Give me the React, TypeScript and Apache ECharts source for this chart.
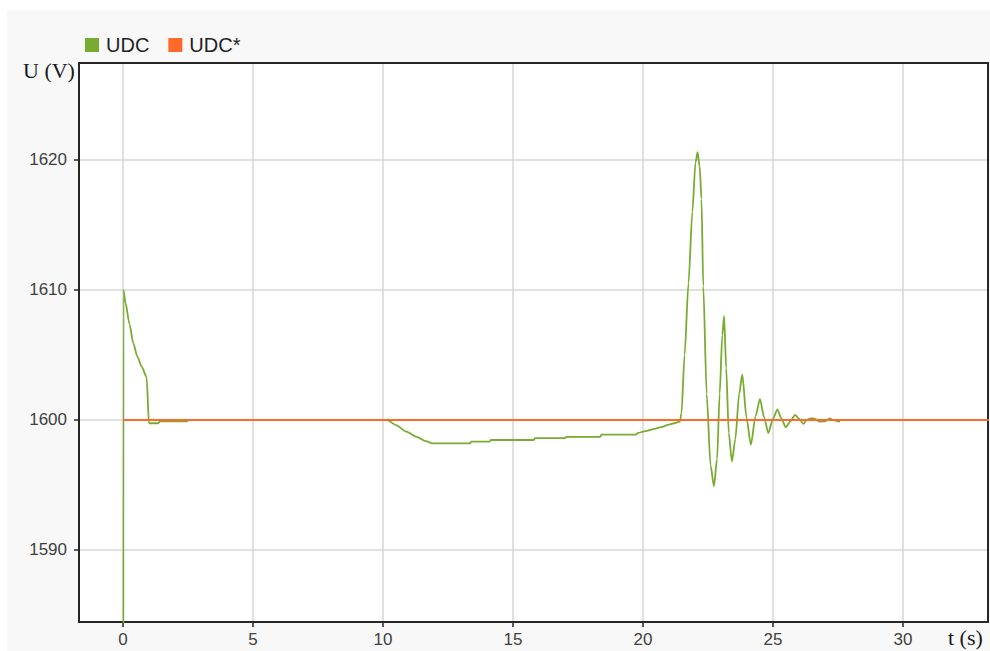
import React, { useEffect, useRef } from "react";
import * as echarts from "echarts";

const udcTime = [
  0, 0.02, 0.1, 0.25, 0.4, 0.55, 0.72, 0.91, 1.0, 1.36, 1.42, 2.47, 2.5,
  10.15, 10.2, 10.5, 10.9, 11.3, 11.6, 11.93, 13.35, 13.4, 14.1, 14.15, 15.8, 15.85,
  17.0, 17.05, 18.35, 18.4, 19.74, 19.8, 20.1, 20.4, 20.7, 21.0, 21.2, 21.42,
  21.48, 21.6, 21.75, 21.9, 22.02, 22.1, 22.18, 22.25, 22.32, 22.45, 22.6, 22.73,
  22.85, 22.95, 23.05, 23.12, 23.2, 23.3, 23.42, 23.55, 23.7, 23.82, 23.98, 24.15,
  24.33, 24.5, 24.66, 24.82, 25.0, 25.17, 25.33, 25.49, 25.67, 25.85, 26.0, 26.17,
  26.3, 26.45, 26.6, 26.8, 27.0, 27.19, 27.3, 27.58,
];
const udcValue = [
  1500, 1610, 1609, 1607.4, 1605.9, 1604.9, 1604.1, 1603.3, 1599.75, 1599.75, 1599.9, 1599.9, 1600,
  1600, 1599.95, 1599.6, 1599.1, 1598.7, 1598.4, 1598.2, 1598.2, 1598.33, 1598.33, 1598.46, 1598.46, 1598.6,
  1598.6, 1598.7, 1598.7, 1598.87, 1598.87, 1599.0, 1599.15, 1599.3, 1599.45, 1599.65, 1599.75, 1599.87,
  1600.5, 1605, 1610.5, 1616, 1619.8, 1620.6, 1619.5, 1617, 1610.3, 1602, 1596.5, 1594.9,
  1597, 1602, 1606.5, 1608.0, 1604, 1599, 1596.8, 1598.5, 1602, 1603.5, 1600.2, 1598.1,
  1600.3, 1601.6, 1600.2, 1599.0, 1600.1, 1600.8, 1600.1, 1599.44, 1599.9, 1600.4, 1600.1, 1599.7,
  1600.0, 1600.13, 1600.1, 1599.87, 1599.9, 1600.13, 1600.0, 1599.87,
];
const refTime = [0, 34];
const refValue = [1600, 1600];

const xMin = -1.69;
const xMax = 33.27;
const yMin = 1584.46;
const yMax = 1627.46;

export default function App() {
  const ref = useRef<HTMLDivElement>(null);
  useEffect(() => {
    if (!ref.current) return;
    const chart = echarts.init(ref.current, undefined, { renderer: "svg" });
    const labelFont = "'Liberation Sans', Arial, sans-serif";
    const frameLine = { show: true, onZero: false, lineStyle: { color: "#262626", width: 2 } };
    const gridLine = { show: true, lineStyle: { color: "#d6d6d6", width: 1.5 } };
    chart.setOption({
      animation: false,
      backgroundColor: "#ffffff",
      graphic: [
        { type: "rect", left: 7, top: 10, z: -10, shape: { width: 983, height: 641 }, style: { fill: "#f8f8f8" } },
        { type: "text", left: 23, top: 59, style: { text: "U (V)", font: "22px 'Liberation Serif', serif", fill: "#1a1a1a" } },
        { type: "text", left: 948, top: 626, style: { text: "t (s)", font: "22px 'Liberation Serif', serif", fill: "#1a1a1a" } },
      ],
      legend: {
        left: 80,
        top: 30,
        icon: "rect",
        itemWidth: 14,
        itemHeight: 14,
        itemGap: 19,
        textStyle: { fontSize: 20, color: "#1f1f1f", fontFamily: labelFont, padding: [0, 0, 0, 2] },
        data: ["UDC", "UDC*"],
      },
      grid: {
        left: 79,
        right: 2,
        top: 63,
        bottom: 29,
        show: true,
        backgroundColor: "#ffffff",
        borderWidth: 0,
      },
      xAxis: [
        {
          type: "value",
          min: xMin,
          max: xMax,
          splitNumber: 7,
          axisLine: frameLine,
          axisTick: { show: true, length: 5, lineStyle: { color: "#262626", width: 1.5 } },
          axisLabel: {
            fontSize: 17,
            color: "#404040",
            fontFamily: labelFont,
            margin: 9,
            showMinLabel: false,
            showMaxLabel: false,
            formatter: (v: number) => (Math.abs(v % 5) < 1e-6 ? String(v) : ""),
          },
          splitLine: gridLine,
        },
        {
          type: "value",
          position: "top",
          min: xMin,
          max: xMax,
          axisLine: frameLine,
          axisTick: { show: false },
          axisLabel: { show: false },
          splitLine: { show: false },
        },
      ],
      yAxis: [
        {
          type: "value",
          min: yMin,
          max: yMax,
          splitNumber: 4,
          axisLine: frameLine,
          axisTick: { show: true, length: 5, lineStyle: { color: "#262626", width: 1.5 } },
          axisLabel: {
            fontSize: 17,
            color: "#404040",
            fontFamily: labelFont,
            margin: 12,
            showMinLabel: false,
            showMaxLabel: false,
            formatter: (v: number) => (Math.abs(v % 10) < 1e-6 ? String(v) : ""),
          },
          splitLine: gridLine,
        },
        {
          type: "value",
          position: "right",
          min: yMin,
          max: yMax,
          axisLine: frameLine,
          axisTick: { show: false },
          axisLabel: { show: false },
          splitLine: { show: false },
        },
      ],
      series: [
        {
          name: "UDC",
          type: "line",
          showSymbol: false,
          smooth: 0.25,
          smoothMonotone: "x",
          color: "#77AC30",
          lineStyle: { width: 1.8, color: "#77AC30" },
          data: udcTime.map((t, i) => [t, udcValue[i]]),
        },
        {
          name: "UDC*",
          type: "line",
          showSymbol: false,
          color: "#FF6929",
          lineStyle: { width: 2, color: "#FF6929" },
          data: refTime.map((t, i) => [t, refValue[i]]),
        },
      ],
    });
    return () => chart.dispose();
  }, []);
  return <div ref={ref} style={{ position: "fixed", left: 0, top: 0, width: 990, height: 651 }} />;
}
